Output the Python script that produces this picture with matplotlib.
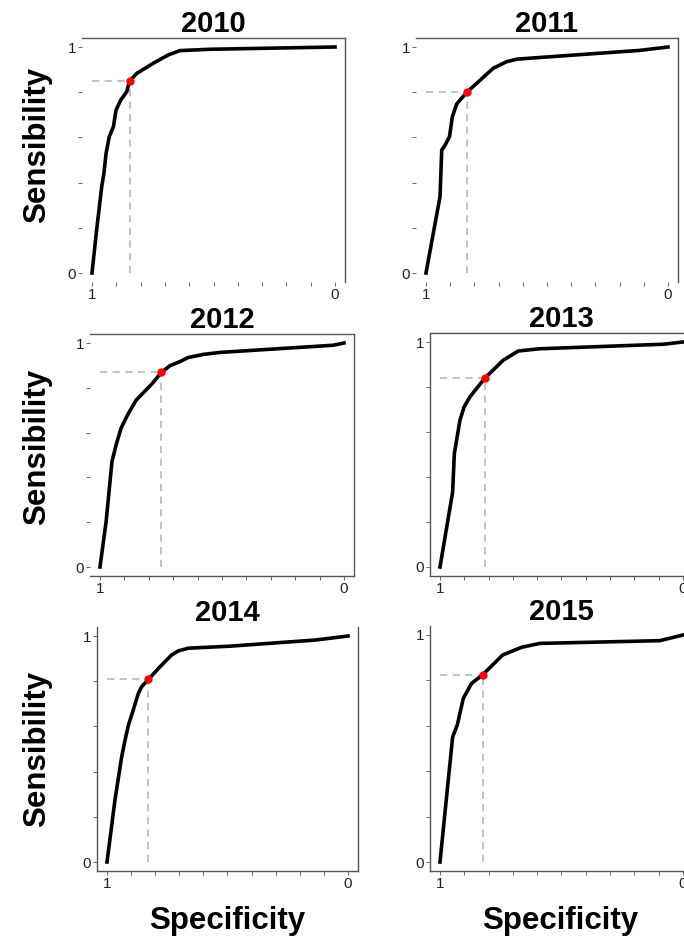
import matplotlib
matplotlib.use('Agg')
from matplotlib import pyplot as plt
import numpy as np

plt.rcParams['font.family'] = ['Liberation Sans', 'DejaVu Sans']

	####  dati  ####
years = ['2010', '2011', '2012', '2013', '2014', '2015']

spec_2010 = [1.0, 0.981, 0.96, 0.951, 0.942, 0.929, 0.912, 0.901, 0.882, 0.857, 0.85, 0.844,
             0.816, 0.748, 0.686, 0.638, 0.514, 0.0]
sens_2010 = [0.0, 0.19, 0.382, 0.441, 0.53, 0.603, 0.647, 0.721, 0.765, 0.802, 0.832, 0.851,
             0.883, 0.928, 0.965, 0.984, 0.99, 1.0]

spec_2011 = [1.0, 0.942, 0.935, 0.921, 0.903, 0.891, 0.873, 0.853, 0.829, 0.722, 0.667, 0.625,
             0.577, 0.117, 0.0]
sens_2011 = [0.0, 0.338, 0.544, 0.566, 0.603, 0.692, 0.748, 0.773, 0.802, 0.906, 0.935, 0.946,
             0.95, 0.985, 1.0]

spec_2012 = [1.0, 0.975, 0.951, 0.934, 0.914, 0.887, 0.852, 0.825, 0.785, 0.748, 0.713, 0.672,
             0.639, 0.577, 0.508, 0.044, 0.0]
sens_2012 = [0.0, 0.202, 0.47, 0.545, 0.619, 0.679, 0.745, 0.775, 0.82, 0.869, 0.899, 0.917,
             0.935, 0.949, 0.958, 0.99, 1.0]

spec_2013 = [1.0, 0.948, 0.941, 0.918, 0.901, 0.877, 0.815, 0.74, 0.678, 0.589, 0.082, 0.0]
sens_2013 = [0.0, 0.333, 0.504, 0.652, 0.711, 0.756, 0.84, 0.919, 0.96, 0.97, 0.99, 1.0]

spec_2014 = [1.0, 0.967, 0.939, 0.925, 0.911, 0.891, 0.87, 0.856, 0.828, 0.78, 0.732, 0.704,
             0.663, 0.49, 0.137, 0.0]
sens_2014 = [0.0, 0.274, 0.466, 0.54, 0.606, 0.673, 0.746, 0.776, 0.808, 0.864, 0.916, 0.934,
             0.946, 0.955, 0.982, 1.0]

spec_2015 = [1.0, 0.948, 0.929, 0.904, 0.87, 0.825, 0.742, 0.664, 0.589, 0.096, 0.0]
sens_2015 = [0.0, 0.551, 0.603, 0.721, 0.787, 0.824, 0.912, 0.946, 0.963, 0.975, 1.0]

# punto di soglia (red dot)
cut_spec = [0.844, 0.829, 0.748, 0.815, 0.828, 0.825]
cut_sens = [0.851, 0.802, 0.869, 0.84, 0.808, 0.824]

spec = [spec_2010, spec_2011, spec_2012, spec_2013, spec_2014, spec_2015]
sens = [sens_2010, sens_2011, sens_2012, sens_2013, sens_2014, sens_2015]
	####	####	####	####

W, H = 684, 939
fig = plt.figure(figsize=(W/100, H/100), dpi=100)

# pixel of x=1, x=0, y=1, y=0 for each panel
pix = [(92, 335, 47, 273), (426, 668, 47, 273),
       (100, 344, 343, 567), (440, 683, 342, 567),
       (107, 348, 636, 862), (440, 683, 635, 862)]
spines_on = [('top', 'right'), ('top', 'right'),
             ('top', 'bottom', 'right'), ('top', 'bottom', 'left', 'right'),
             ('bottom', 'left', 'right'), ('bottom', 'left', 'right')]
e = 0.04

for k in range(6):
	x1, x0, y1, y0 = pix[k]
	dx = (x0 - x1) * e
	dy = (y0 - y1) * e
	L, R = x1 - dx, x0 + dx
	T, B = y1 - dy, y0 + dy
	ax = fig.add_axes([L/W, 1 - B/H, (R - L)/W, (B - T)/H])
	ax.set_xlim(1 + e, -e)
	ax.set_ylim(-e, 1 + e)

	ax.plot([1, cut_spec[k]], [cut_sens[k], cut_sens[k]], ls=(0, (4, 3)), c='#bdbdbd', lw=1.3)
	ax.plot([cut_spec[k], cut_spec[k]], [0, cut_sens[k]], ls=(0, (4, 3)), c='#bdbdbd', lw=1.3)
	ax.plot(spec[k], sens[k], '-', c='black', lw=2.6, solid_joinstyle='round')
	ax.plot(cut_spec[k], cut_sens[k], 'o', c='red', ms=5, zorder=5)

	ax.set_xticks(np.arange(0, 1.01, 0.1))
	ax.set_xticklabels(['0'] + ['']*9 + ['1'])
	ax.set_yticks(np.arange(0, 1.01, 0.2))
	ax.set_yticklabels(['0'] + ['']*4 + ['1'])
	ax.tick_params(length=3, width=0.7, color='#666666', labelsize=11, labelcolor='#222222', pad=1.5)

	for s in ['top', 'bottom', 'left', 'right']:
		ax.spines[s].set_visible(s in spines_on[k])
		ax.spines[s].set_color('#555555')
		ax.spines[s].set_linewidth(1.0)

	ax.set_title(years[k], fontsize=21, fontweight='bold', pad=3)

# etichette assi
for yc in [145, 447, 749]:
	fig.text(37/W, 1 - yc/H, 'Sensibility', rotation=90, fontsize=22.5, fontweight='bold',
		ha='center', va='center')
for xc in [227, 560]:
	fig.text(xc/W, 1 - 921/H, 'Specificity', fontsize=22.5, fontweight='bold',
		ha='center', va='center')

fig.savefig('out.png', dpi=100)
